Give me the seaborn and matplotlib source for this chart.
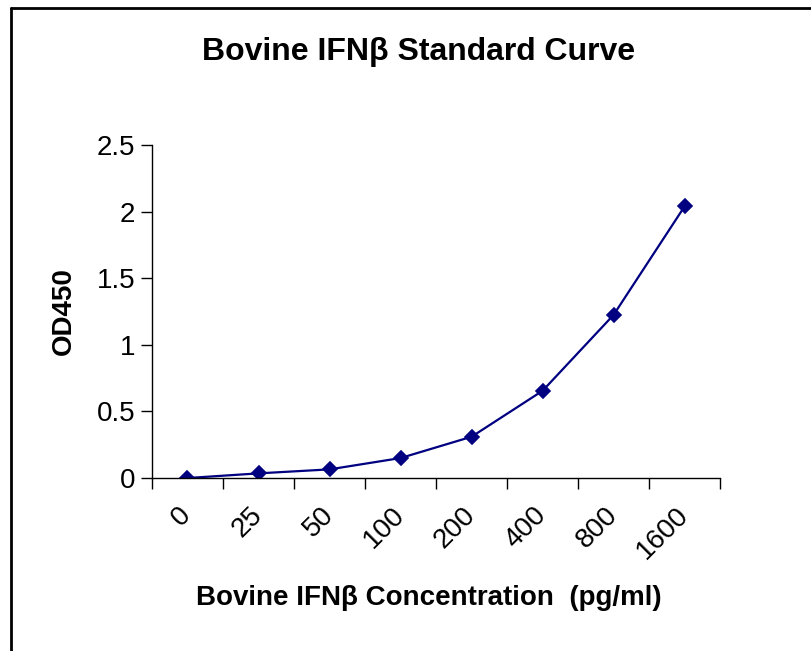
import pandas as pd
import seaborn as sns
import matplotlib.pyplot as plt
import matplotlib.transforms as mtransforms
from matplotlib.lines import Line2D
from matplotlib.ticker import FuncFormatter, FixedLocator

# standard curve readings
concentrations = ['0', '25', '50', '100', '200', '400', '800', '1600']
od450 = [0.0, 0.035, 0.065, 0.15, 0.31, 0.655, 1.225, 2.04]

df = pd.DataFrame({'Concentration': concentrations, 'OD450': od450})

sns.set_style('white')
plt.rcParams['font.family'] = ['Liberation Sans', 'DejaVu Sans']
plt.rcParams['text.color'] = 'black'
plt.rcParams['axes.labelcolor'] = 'black'
plt.rcParams['xtick.color'] = 'black'
plt.rcParams['ytick.color'] = 'black'

fig = plt.figure(figsize=(8.11, 6.51), dpi=100)
ax = fig.add_axes([0.1874, 0.2657, 0.7006, 0.5116])

sns.pointplot(data=df, x='Concentration', y='OD450', color='#000080',
              markers='D', markersize=7.5, linewidth=1.6, ax=ax)

ax.set_xlim(-0.5, len(concentrations) - 0.5)
ax.set_ylim(0, 2.5)
ax.set_yticks([0, 0.5, 1, 1.5, 2, 2.5])
ax.yaxis.set_major_formatter(FuncFormatter(lambda v, p: f'{v:g}'))
ax.tick_params(axis='y', which='major', direction='out', length=8, width=1,
               color='black', labelsize=20, pad=4, left=True)

# ticks between categories, labels under the points
ax.xaxis.set_minor_locator(FixedLocator([i - 0.5 for i in range(len(concentrations) + 1)]))
ax.tick_params(axis='x', which='minor', direction='out', length=8, width=1,
               color='black', bottom=True)
ax.tick_params(axis='x', which='major', length=0, labelsize=20, pad=17)
shift = mtransforms.ScaledTranslation(9 / 100, 0, fig.dpi_scale_trans)
for lab in ax.get_xticklabels():
    lab.set_rotation(45)
    lab.set_ha('right')
    lab.set_transform(lab.get_transform() + shift)

for side in ['top', 'right']:
    ax.spines[side].set_visible(False)
for side in ['left', 'bottom']:
    ax.spines[side].set_color('black')
    ax.spines[side].set_linewidth(1)

ax.set_xlabel('')
ax.set_ylabel('OD450', fontsize=20, fontweight='bold', labelpad=14)
ax.grid(False)

fig.text(419 / 811, 1 - 52 / 651, 'Bovine IFN\u03b2 Standard Curve', fontsize=23,
         fontweight='bold', ha='center', va='center')
fig.text(429 / 811, 1 - 598 / 651, 'Bovine IFN\u03b2 Concentration  (pg/ml)', fontsize=20,
         fontweight='bold', ha='center', va='center')

# outer frame (left and top edges visible)
fig.add_artist(Line2D([11 / 811, 11 / 811], [0, 1 - 8 / 651], transform=fig.transFigure,
                      color='black', linewidth=2))
fig.add_artist(Line2D([11 / 811, 1], [1 - 8 / 651, 1 - 8 / 651], transform=fig.transFigure,
                      color='black', linewidth=2))

fig.savefig('out.png', dpi=100)
